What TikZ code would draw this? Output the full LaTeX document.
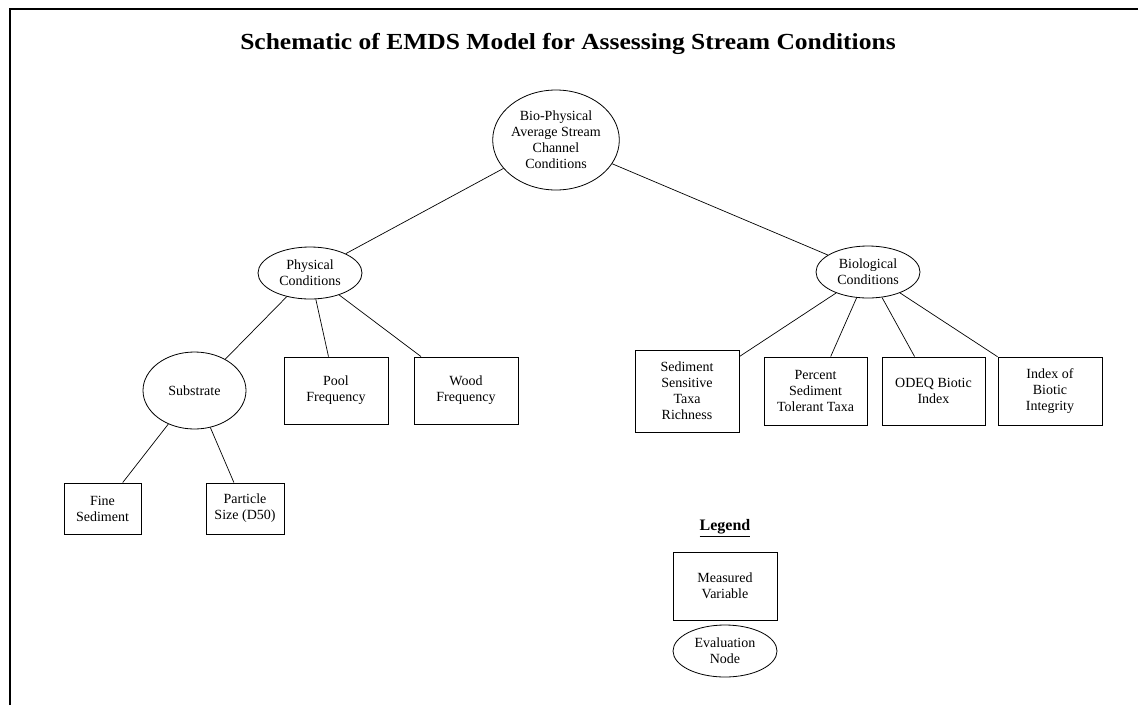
\documentclass[tikz,border=0pt]{standalone}
\usepackage{fontspec}
\setmainfont{Liberation Serif}
\usetikzlibrary{shapes.geometric}
\begin{document}
\begin{tikzpicture}[x=1pt,y=-1pt,
  txt/.style={font=\fontsize{14}{16}\selectfont, align=center, inner sep=0pt},
  evnode/.style={txt, ellipse, draw, line width=0.8pt},
  mvbox/.style={txt, rectangle, draw, line width=0.9pt},
  link/.style={draw, line width=0.7pt},
  frame/.style={draw, line width=2.4pt}]
\useasboundingbox (0,0) rectangle (1138,705);
\draw[frame] (10,705) -- (10,9) -- (1138,9);
\node[font=\fontsize{23}{26}\selectfont\bfseries, inner sep=0pt] (title) at (568,44) {\scalebox{1.11}[1]{Schematic of EMDS Model for Assessing Stream Conditions}};

\node[evnode, minimum width=126pt, minimum height=100pt] (root) at (556,140) {Bio-Physical\\Average Stream\\Channel\\Conditions};
\node[evnode, minimum width=104pt, minimum height=52pt] (phys) at (310,273) {Physical\\Conditions};
\node[evnode, minimum width=104pt, minimum height=52pt] (bio) at (868,272) {Biological\\Conditions};
\node[evnode, minimum width=103pt, minimum height=77pt] (subs) at (194.5,390.5) {Substrate};

\node[mvbox, minimum width=104pt, minimum height=67pt] (pool) at (336,390.5) {Pool\\Frequency};
\node[mvbox, minimum width=104pt, minimum height=67pt] (wood) at (466,390.5) {Wood\\Frequency};
\node[mvbox, minimum width=104pt, minimum height=82pt] (sst) at (687,391) {Sediment\\Sensitive\\Taxa\\Richness};
\node[mvbox, minimum width=103pt, minimum height=68pt] (pst) at (815.5,391) {Percent\\Sediment\\Tolerant Taxa};
\node[mvbox, minimum width=103pt, minimum height=68pt] (odeq) at (933.5,391) {ODEQ Biotic\\Index};
\node[mvbox, minimum width=104pt, minimum height=68pt] (ibi) at (1050,391) {Index of\\Biotic\\Integrity};
\node[mvbox, minimum width=77pt, minimum height=51pt] (fine) at (102.5,508.5) {Fine\\Sediment};
\node[mvbox, minimum width=78pt, minimum height=51pt] (part) at (245,508.5) {Particle\\Size (D50)};

\draw[link] (root) -- (phys);
\draw[link] (root) -- (bio);
\draw[link] (phys) -- (subs);
\draw[link] (phys) -- (pool);
\draw[link] (phys) -- (wood);
\draw[link] (bio) -- (sst);
\draw[link] (bio) -- (pst);
\draw[link] (bio) -- (odeq);
\draw[link] (bio) -- (ibi);
\draw[link] (subs) -- (fine);
\draw[link] (subs) -- (part);

\node[font=\fontsize{16}{18}\selectfont\bfseries, inner sep=0pt] (leg) at (725,528) {\underline{Legend}};
\node[mvbox, minimum width=104pt, minimum height=68pt] (mvar) at (725,586) {Measured\\Variable};
\node[evnode, minimum width=104pt, minimum height=52pt] (evn) at (725,651) {Evaluation\\Node};
\end{tikzpicture}
\end{document}
